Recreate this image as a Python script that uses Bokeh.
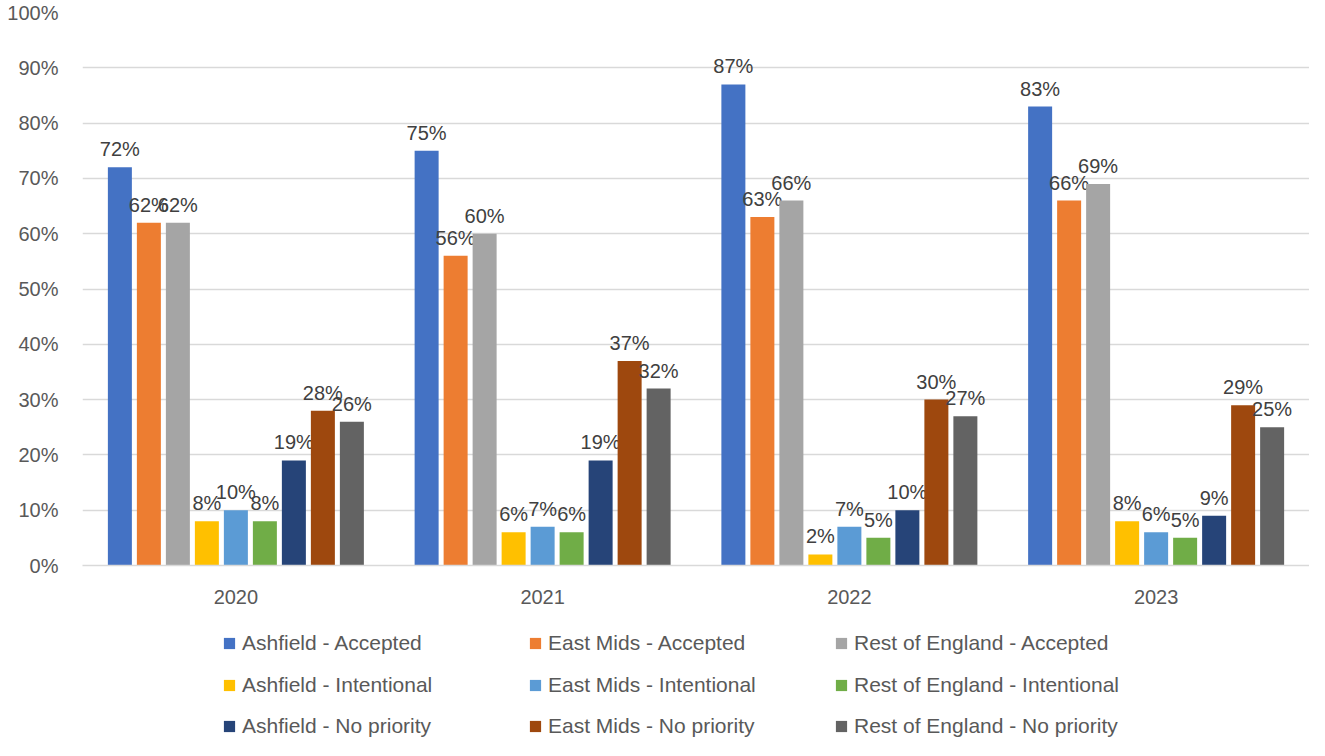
from bokeh.plotting import figure
from bokeh.layouts import column
from bokeh.models import FactorRange, Legend, LegendItem, ColumnDataSource, FixedTicker, Range1d
from bokeh.transform import dodge
from bokeh.core.properties import value
from bokeh.embed import file_html
from bokeh.resources import INLINE

years = ["2020", "2021", "2022", "2023"]
series = [
    "Ashfield - Accepted", "East Mids - Accepted", "Rest of England - Accepted",
    "Ashfield - Intentional", "East Mids - Intentional", "Rest of England - Intentional",
    "Ashfield - No priority", "East Mids - No priority", "Rest of England - No priority",
]
colors = ["#4472C4", "#ED7D31", "#A5A5A5", "#FFC000", "#5B9BD5", "#70AD47",
          "#264478", "#9E480E", "#636363"]

ashfield_accepted = [72, 75, 87, 83]
eastmids_accepted = [62, 56, 63, 66]
rest_accepted = [62, 60, 66, 69]
ashfield_intentional = [8, 6, 2, 8]
eastmids_intentional = [10, 7, 7, 6]
rest_intentional = [8, 6, 5, 5]
ashfield_nopriority = [19, 19, 10, 9]
eastmids_nopriority = [28, 37, 30, 29]
rest_nopriority = [26, 32, 27, 25]

all_values = [ashfield_accepted, eastmids_accepted, rest_accepted,
              ashfield_intentional, eastmids_intentional, rest_intentional,
              ashfield_nopriority, eastmids_nopriority, rest_nopriority]

FONT = "Liberation Sans"
W = 1309
H1 = 620
H2 = 120

p = figure(x_range=FactorRange(factors=years, range_padding=0, factor_padding=0),
           y_range=(0, 100), width=W, height=H1,
           min_border_left=82, min_border_right=0, min_border_top=12, min_border_bottom=55,
           output_backend="svg", toolbar_location=None)

group_px = 1227.0 / 4
pitch = 29.0 / group_px
bw = 24.0 / group_px

sources = []
for j, (name, col, vals) in enumerate(zip(series, colors, all_values)):
    src = ColumnDataSource(dict(year=years, v=vals, lbl=[f"{v}%" for v in vals]))
    sources.append(src)
    off = (j - 4) * pitch
    p.vbar(x=dodge("year", off, range=p.x_range), top="v", width=bw, source=src,
           color=col, line_color=None)
    p.text(x=dodge("year", off, range=p.x_range), y="v", text="lbl", source=src,
           text_align="center", text_baseline="alphabetic", y_offset=-18,
           text_font=value(FONT), text_font_size="20px", text_color="#404040")

p.outline_line_color = None
p.xgrid.grid_line_color = None
p.ygrid.grid_line_color = "#D9D9D9"
p.ygrid.grid_line_width = 1.3
p.yaxis.ticker = FixedTicker(ticks=list(range(0, 101, 10)))
p.yaxis.major_label_overrides = {t: f"{t}%" for t in range(0, 101, 10)}
p.yaxis.axis_line_color = None
p.yaxis.major_tick_line_color = None
p.yaxis.minor_tick_line_color = None
p.yaxis.major_label_text_font = FONT
p.yaxis.major_label_text_font_size = "20px"
p.yaxis.major_label_text_color = "#595959"
p.yaxis.major_label_standoff = 18

p.xaxis.axis_line_color = "#D9D9D9"
p.xaxis.axis_line_width = 1.3
p.xaxis.major_tick_line_color = None
p.xaxis.minor_tick_line_color = None
p.xaxis.major_label_text_font = FONT
p.xaxis.major_label_text_font_size = "20px"
p.xaxis.major_label_text_color = "#595959"
p.xaxis.major_label_standoff = 18

# legend panel: a bare figure holding hidden copies of the series, shown only in its legend
lg = figure(width=W, height=H2, min_border=0, x_axis_location=None, y_axis_location=None,
            x_range=FactorRange(factors=years), y_range=Range1d(0, 100),
            output_backend="svg", toolbar_location=None)
lg.outline_line_color = None
lg.xgrid.visible = False
lg.ygrid.visible = False
leg_renderers = []
for src, c in zip(sources, colors):
    r = lg.vbar(x="year", top="v", width=0.5, source=src, color=c, line_color=None)
    r.visible = False
    leg_renderers.append(r)

row_y = [85, 43, 2]
for row in range(3):
    items = [LegendItem(label=series[row * 3 + k], renderers=[leg_renderers[row * 3 + k]])
             for k in range(3)]
    leg = Legend(items=items, orientation="horizontal", location=(140, row_y[row]),
                 glyph_width=14, glyph_height=14, label_standoff=6, label_width=268,
                 label_height=23, spacing=18, padding=0, margin=0,
                 border_line_color=None, background_fill_alpha=0,
                 inactive_fill_alpha=0,
                 label_text_font=FONT, label_text_font_size="21px",
                 label_text_color="#595959")
    lg.add_layout(leg, "center")

layout = column(p, lg, spacing=0)
open("out.html", "w").write(file_html(layout, INLINE))
